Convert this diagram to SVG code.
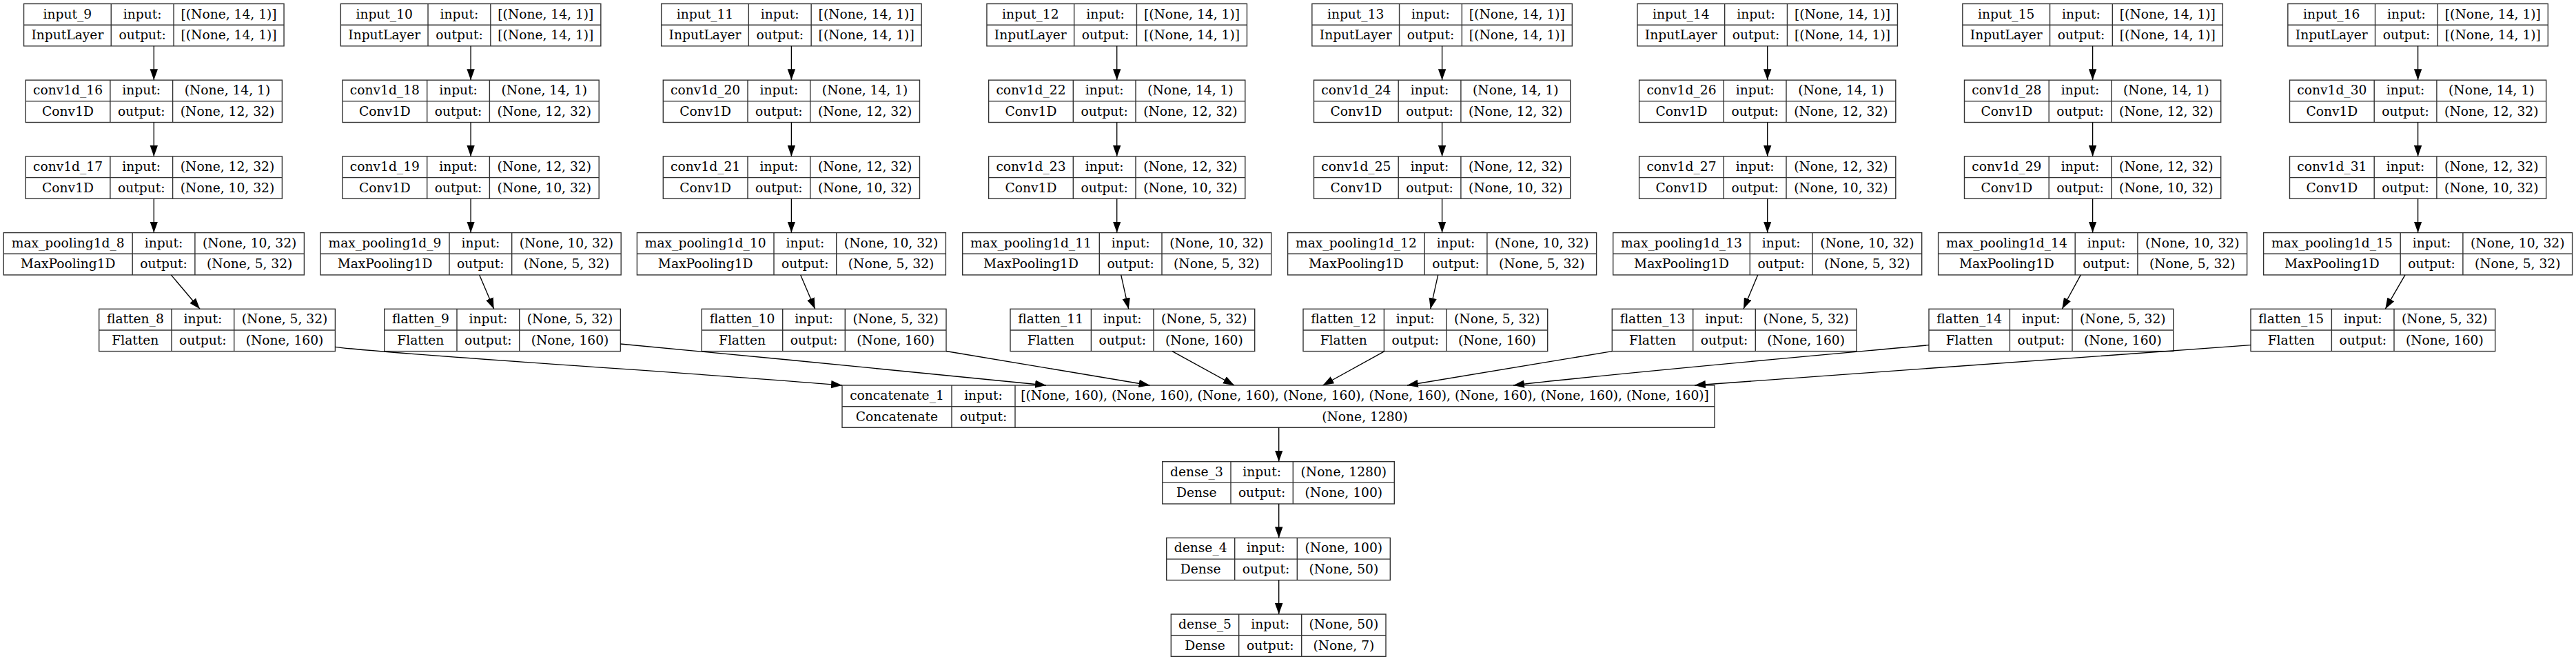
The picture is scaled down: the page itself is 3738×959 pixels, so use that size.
<svg xmlns="http://www.w3.org/2000/svg" width="3738" height="959" viewBox="0 0 3738 959">
<style>
.b{fill:#fff;stroke:#333;stroke-width:1.4}
.l{stroke:#333;stroke-width:1.4;fill:none}
.e{stroke:#000;stroke-width:1.35;fill:none;marker-end:url(#ah)}
text{font-family:"DejaVu Serif","Liberation Serif",serif;font-size:18.67px;text-anchor:middle;fill:#000}
</style>
<defs>
<marker id="ah" markerUnits="userSpaceOnUse" markerWidth="16" markerHeight="12" refX="14" refY="5" orient="auto" viewBox="0 0 14 10"><path d="M0,0 L14,5 L0,10 z" fill="#000"/></marker>
</defs>
<rect width="3738" height="959" fill="#fff"/>

<!-- Column 1 -->
<g id="input_9" transform="translate(34.55,5.5)"><rect class="b" width="377.5" height="61.3"/><path class="l" d="M0 30.7H377.5M126.7 0V61.3M217.5 0V61.3"/><text x="63.35" y="21">input_9</text><text x="172.1" y="21">input:</text><text x="297.5" y="21">[(None, 14, 1)]</text><text x="63.35" y="51.7">InputLayer</text><text x="172.1" y="51.7">output:</text><text x="297.5" y="51.7">[(None, 14, 1)]</text></g>
<g id="conv1d_16" transform="translate(37.2,116.2)"><rect class="b" width="372.2" height="61.3"/><path class="l" d="M0 30.7H372.2M122.7 0V61.3M213.4 0V61.3"/><text x="61.35" y="21">conv1d_16</text><text x="168.05" y="21">input:</text><text x="292.8" y="21">(None, 14, 1)</text><text x="61.35" y="51.7">Conv1D</text><text x="168.05" y="51.7">output:</text><text x="292.8" y="51.7">(None, 12, 32)</text></g>
<g id="conv1d_17" transform="translate(37.2,226.9)"><rect class="b" width="372.2" height="61.3"/><path class="l" d="M0 30.7H372.2M122.7 0V61.3M213.4 0V61.3"/><text x="61.35" y="21">conv1d_17</text><text x="168.05" y="21">input:</text><text x="292.8" y="21">(None, 12, 32)</text><text x="61.35" y="51.7">Conv1D</text><text x="168.05" y="51.7">output:</text><text x="292.8" y="51.7">(None, 10, 32)</text></g>
<g id="max_pooling1d_8" transform="translate(5.2,337.6)"><rect class="b" width="436.2" height="61.3"/><path class="l" d="M0 30.7H436.2M187 0V61.3M277.7 0V61.3"/><text x="93.5" y="21">max_pooling1d_8</text><text x="232.35" y="21">input:</text><text x="356.95" y="21">(None, 10, 32)</text><text x="93.5" y="51.7">MaxPooling1D</text><text x="232.35" y="51.7">output:</text><text x="356.95" y="51.7">(None, 5, 32)</text></g>
<g id="flatten_8" transform="translate(143.7,448.3)"><rect class="b" width="342.7" height="61.3"/><path class="l" d="M0 30.7H342.7M105.3 0V61.3M196 0V61.3"/><text x="52.65" y="21">flatten_8</text><text x="150.65" y="21">input:</text><text x="269.35" y="21">(None, 5, 32)</text><text x="52.65" y="51.7">Flatten</text><text x="150.65" y="51.7">output:</text><text x="269.35" y="51.7">(None, 160)</text></g>

<!-- Column 2 -->
<g id="input_10" transform="translate(494.35,5.5)"><rect class="b" width="377.5" height="61.3"/><path class="l" d="M0 30.7H377.5M126.7 0V61.3M217.5 0V61.3"/><text x="63.35" y="21">input_10</text><text x="172.1" y="21">input:</text><text x="297.5" y="21">[(None, 14, 1)]</text><text x="63.35" y="51.7">InputLayer</text><text x="172.1" y="51.7">output:</text><text x="297.5" y="51.7">[(None, 14, 1)]</text></g>
<g id="conv1d_18" transform="translate(497,116.2)"><rect class="b" width="372.2" height="61.3"/><path class="l" d="M0 30.7H372.2M122.7 0V61.3M213.4 0V61.3"/><text x="61.35" y="21">conv1d_18</text><text x="168.05" y="21">input:</text><text x="292.8" y="21">(None, 14, 1)</text><text x="61.35" y="51.7">Conv1D</text><text x="168.05" y="51.7">output:</text><text x="292.8" y="51.7">(None, 12, 32)</text></g>
<g id="conv1d_19" transform="translate(497,226.9)"><rect class="b" width="372.2" height="61.3"/><path class="l" d="M0 30.7H372.2M122.7 0V61.3M213.4 0V61.3"/><text x="61.35" y="21">conv1d_19</text><text x="168.05" y="21">input:</text><text x="292.8" y="21">(None, 12, 32)</text><text x="61.35" y="51.7">Conv1D</text><text x="168.05" y="51.7">output:</text><text x="292.8" y="51.7">(None, 10, 32)</text></g>
<g id="max_pooling1d_9" transform="translate(465,337.6)"><rect class="b" width="436.2" height="61.3"/><path class="l" d="M0 30.7H436.2M187 0V61.3M277.7 0V61.3"/><text x="93.5" y="21">max_pooling1d_9</text><text x="232.35" y="21">input:</text><text x="356.95" y="21">(None, 10, 32)</text><text x="93.5" y="51.7">MaxPooling1D</text><text x="232.35" y="51.7">output:</text><text x="356.95" y="51.7">(None, 5, 32)</text></g>
<g id="flatten_9" transform="translate(557.7,448.3)"><rect class="b" width="342.7" height="61.3"/><path class="l" d="M0 30.7H342.7M105.3 0V61.3M196 0V61.3"/><text x="52.65" y="21">flatten_9</text><text x="150.65" y="21">input:</text><text x="269.35" y="21">(None, 5, 32)</text><text x="52.65" y="51.7">Flatten</text><text x="150.65" y="51.7">output:</text><text x="269.35" y="51.7">(None, 160)</text></g>

<!-- Column 3 -->
<g id="input_11" transform="translate(959.65,5.5)"><rect class="b" width="377.5" height="61.3"/><path class="l" d="M0 30.7H377.5M126.7 0V61.3M217.5 0V61.3"/><text x="63.35" y="21">input_11</text><text x="172.1" y="21">input:</text><text x="297.5" y="21">[(None, 14, 1)]</text><text x="63.35" y="51.7">InputLayer</text><text x="172.1" y="51.7">output:</text><text x="297.5" y="51.7">[(None, 14, 1)]</text></g>
<g id="conv1d_20" transform="translate(962.3,116.2)"><rect class="b" width="372.2" height="61.3"/><path class="l" d="M0 30.7H372.2M122.7 0V61.3M213.4 0V61.3"/><text x="61.35" y="21">conv1d_20</text><text x="168.05" y="21">input:</text><text x="292.8" y="21">(None, 14, 1)</text><text x="61.35" y="51.7">Conv1D</text><text x="168.05" y="51.7">output:</text><text x="292.8" y="51.7">(None, 12, 32)</text></g>
<g id="conv1d_21" transform="translate(962.3,226.9)"><rect class="b" width="372.2" height="61.3"/><path class="l" d="M0 30.7H372.2M122.7 0V61.3M213.4 0V61.3"/><text x="61.35" y="21">conv1d_21</text><text x="168.05" y="21">input:</text><text x="292.8" y="21">(None, 12, 32)</text><text x="61.35" y="51.7">Conv1D</text><text x="168.05" y="51.7">output:</text><text x="292.8" y="51.7">(None, 10, 32)</text></g>
<g id="max_pooling1d_10" transform="translate(924.4,337.6)"><rect class="b" width="448" height="61.3"/><path class="l" d="M0 30.7H448M198.6 0V61.3M289.3 0V61.3"/><text x="99.3" y="21">max_pooling1d_10</text><text x="243.95" y="21">input:</text><text x="368.65" y="21">(None, 10, 32)</text><text x="99.3" y="51.7">MaxPooling1D</text><text x="243.95" y="51.7">output:</text><text x="368.65" y="51.7">(None, 5, 32)</text></g>
<g id="flatten_10" transform="translate(1018.3,448.3)"><rect class="b" width="354.7" height="61.3"/><path class="l" d="M0 30.7H354.7M117.4 0V61.3M208 0V61.3"/><text x="58.7" y="21">flatten_10</text><text x="162.7" y="21">input:</text><text x="281.35" y="21">(None, 5, 32)</text><text x="58.7" y="51.7">Flatten</text><text x="162.7" y="51.7">output:</text><text x="281.35" y="51.7">(None, 160)</text></g>

<!-- Column 4 -->
<g id="input_12" transform="translate(1431.95,5.5)"><rect class="b" width="377.5" height="61.3"/><path class="l" d="M0 30.7H377.5M126.7 0V61.3M217.5 0V61.3"/><text x="63.35" y="21">input_12</text><text x="172.1" y="21">input:</text><text x="297.5" y="21">[(None, 14, 1)]</text><text x="63.35" y="51.7">InputLayer</text><text x="172.1" y="51.7">output:</text><text x="297.5" y="51.7">[(None, 14, 1)]</text></g>
<g id="conv1d_22" transform="translate(1434.6,116.2)"><rect class="b" width="372.2" height="61.3"/><path class="l" d="M0 30.7H372.2M122.7 0V61.3M213.4 0V61.3"/><text x="61.35" y="21">conv1d_22</text><text x="168.05" y="21">input:</text><text x="292.8" y="21">(None, 14, 1)</text><text x="61.35" y="51.7">Conv1D</text><text x="168.05" y="51.7">output:</text><text x="292.8" y="51.7">(None, 12, 32)</text></g>
<g id="conv1d_23" transform="translate(1434.6,226.9)"><rect class="b" width="372.2" height="61.3"/><path class="l" d="M0 30.7H372.2M122.7 0V61.3M213.4 0V61.3"/><text x="61.35" y="21">conv1d_23</text><text x="168.05" y="21">input:</text><text x="292.8" y="21">(None, 12, 32)</text><text x="61.35" y="51.7">Conv1D</text><text x="168.05" y="51.7">output:</text><text x="292.8" y="51.7">(None, 10, 32)</text></g>
<g id="max_pooling1d_11" transform="translate(1396.7,337.6)"><rect class="b" width="448" height="61.3"/><path class="l" d="M0 30.7H448M198.6 0V61.3M289.3 0V61.3"/><text x="99.3" y="21">max_pooling1d_11</text><text x="243.95" y="21">input:</text><text x="368.65" y="21">(None, 10, 32)</text><text x="99.3" y="51.7">MaxPooling1D</text><text x="243.95" y="51.7">output:</text><text x="368.65" y="51.7">(None, 5, 32)</text></g>
<g id="flatten_11" transform="translate(1466,448.3)"><rect class="b" width="354.7" height="61.3"/><path class="l" d="M0 30.7H354.7M117.4 0V61.3M208 0V61.3"/><text x="58.7" y="21">flatten_11</text><text x="162.7" y="21">input:</text><text x="281.35" y="21">(None, 5, 32)</text><text x="58.7" y="51.7">Flatten</text><text x="162.7" y="51.7">output:</text><text x="281.35" y="51.7">(None, 160)</text></g>

<!-- Column 5 -->
<g id="input_13" transform="translate(1903.85,5.5)"><rect class="b" width="377.5" height="61.3"/><path class="l" d="M0 30.7H377.5M126.7 0V61.3M217.5 0V61.3"/><text x="63.35" y="21">input_13</text><text x="172.1" y="21">input:</text><text x="297.5" y="21">[(None, 14, 1)]</text><text x="63.35" y="51.7">InputLayer</text><text x="172.1" y="51.7">output:</text><text x="297.5" y="51.7">[(None, 14, 1)]</text></g>
<g id="conv1d_24" transform="translate(1906.5,116.2)"><rect class="b" width="372.2" height="61.3"/><path class="l" d="M0 30.7H372.2M122.7 0V61.3M213.4 0V61.3"/><text x="61.35" y="21">conv1d_24</text><text x="168.05" y="21">input:</text><text x="292.8" y="21">(None, 14, 1)</text><text x="61.35" y="51.7">Conv1D</text><text x="168.05" y="51.7">output:</text><text x="292.8" y="51.7">(None, 12, 32)</text></g>
<g id="conv1d_25" transform="translate(1906.5,226.9)"><rect class="b" width="372.2" height="61.3"/><path class="l" d="M0 30.7H372.2M122.7 0V61.3M213.4 0V61.3"/><text x="61.35" y="21">conv1d_25</text><text x="168.05" y="21">input:</text><text x="292.8" y="21">(None, 12, 32)</text><text x="61.35" y="51.7">Conv1D</text><text x="168.05" y="51.7">output:</text><text x="292.8" y="51.7">(None, 10, 32)</text></g>
<g id="max_pooling1d_12" transform="translate(1868.6,337.6)"><rect class="b" width="448" height="61.3"/><path class="l" d="M0 30.7H448M198.6 0V61.3M289.3 0V61.3"/><text x="99.3" y="21">max_pooling1d_12</text><text x="243.95" y="21">input:</text><text x="368.65" y="21">(None, 10, 32)</text><text x="99.3" y="51.7">MaxPooling1D</text><text x="243.95" y="51.7">output:</text><text x="368.65" y="51.7">(None, 5, 32)</text></g>
<g id="flatten_12" transform="translate(1891,448.3)"><rect class="b" width="354.7" height="61.3"/><path class="l" d="M0 30.7H354.7M117.4 0V61.3M208 0V61.3"/><text x="58.7" y="21">flatten_12</text><text x="162.7" y="21">input:</text><text x="281.35" y="21">(None, 5, 32)</text><text x="58.7" y="51.7">Flatten</text><text x="162.7" y="51.7">output:</text><text x="281.35" y="51.7">(None, 160)</text></g>

<!-- Column 6 -->
<g id="input_14" transform="translate(2375.95,5.5)"><rect class="b" width="377.5" height="61.3"/><path class="l" d="M0 30.7H377.5M126.7 0V61.3M217.5 0V61.3"/><text x="63.35" y="21">input_14</text><text x="172.1" y="21">input:</text><text x="297.5" y="21">[(None, 14, 1)]</text><text x="63.35" y="51.7">InputLayer</text><text x="172.1" y="51.7">output:</text><text x="297.5" y="51.7">[(None, 14, 1)]</text></g>
<g id="conv1d_26" transform="translate(2378.6,116.2)"><rect class="b" width="372.2" height="61.3"/><path class="l" d="M0 30.7H372.2M122.7 0V61.3M213.4 0V61.3"/><text x="61.35" y="21">conv1d_26</text><text x="168.05" y="21">input:</text><text x="292.8" y="21">(None, 14, 1)</text><text x="61.35" y="51.7">Conv1D</text><text x="168.05" y="51.7">output:</text><text x="292.8" y="51.7">(None, 12, 32)</text></g>
<g id="conv1d_27" transform="translate(2378.6,226.9)"><rect class="b" width="372.2" height="61.3"/><path class="l" d="M0 30.7H372.2M122.7 0V61.3M213.4 0V61.3"/><text x="61.35" y="21">conv1d_27</text><text x="168.05" y="21">input:</text><text x="292.8" y="21">(None, 12, 32)</text><text x="61.35" y="51.7">Conv1D</text><text x="168.05" y="51.7">output:</text><text x="292.8" y="51.7">(None, 10, 32)</text></g>
<g id="max_pooling1d_13" transform="translate(2340.7,337.6)"><rect class="b" width="448" height="61.3"/><path class="l" d="M0 30.7H448M198.6 0V61.3M289.3 0V61.3"/><text x="99.3" y="21">max_pooling1d_13</text><text x="243.95" y="21">input:</text><text x="368.65" y="21">(None, 10, 32)</text><text x="99.3" y="51.7">MaxPooling1D</text><text x="243.95" y="51.7">output:</text><text x="368.65" y="51.7">(None, 5, 32)</text></g>
<g id="flatten_13" transform="translate(2339.3,448.3)"><rect class="b" width="354.7" height="61.3"/><path class="l" d="M0 30.7H354.7M117.4 0V61.3M208 0V61.3"/><text x="58.7" y="21">flatten_13</text><text x="162.7" y="21">input:</text><text x="281.35" y="21">(None, 5, 32)</text><text x="58.7" y="51.7">Flatten</text><text x="162.7" y="51.7">output:</text><text x="281.35" y="51.7">(None, 160)</text></g>

<!-- Column 7 -->
<g id="input_15" transform="translate(2847.85,5.5)"><rect class="b" width="377.5" height="61.3"/><path class="l" d="M0 30.7H377.5M126.7 0V61.3M217.5 0V61.3"/><text x="63.35" y="21">input_15</text><text x="172.1" y="21">input:</text><text x="297.5" y="21">[(None, 14, 1)]</text><text x="63.35" y="51.7">InputLayer</text><text x="172.1" y="51.7">output:</text><text x="297.5" y="51.7">[(None, 14, 1)]</text></g>
<g id="conv1d_28" transform="translate(2850.5,116.2)"><rect class="b" width="372.2" height="61.3"/><path class="l" d="M0 30.7H372.2M122.7 0V61.3M213.4 0V61.3"/><text x="61.35" y="21">conv1d_28</text><text x="168.05" y="21">input:</text><text x="292.8" y="21">(None, 14, 1)</text><text x="61.35" y="51.7">Conv1D</text><text x="168.05" y="51.7">output:</text><text x="292.8" y="51.7">(None, 12, 32)</text></g>
<g id="conv1d_29" transform="translate(2850.5,226.9)"><rect class="b" width="372.2" height="61.3"/><path class="l" d="M0 30.7H372.2M122.7 0V61.3M213.4 0V61.3"/><text x="61.35" y="21">conv1d_29</text><text x="168.05" y="21">input:</text><text x="292.8" y="21">(None, 12, 32)</text><text x="61.35" y="51.7">Conv1D</text><text x="168.05" y="51.7">output:</text><text x="292.8" y="51.7">(None, 10, 32)</text></g>
<g id="max_pooling1d_14" transform="translate(2812.6,337.6)"><rect class="b" width="448" height="61.3"/><path class="l" d="M0 30.7H448M198.6 0V61.3M289.3 0V61.3"/><text x="99.3" y="21">max_pooling1d_14</text><text x="243.95" y="21">input:</text><text x="368.65" y="21">(None, 10, 32)</text><text x="99.3" y="51.7">MaxPooling1D</text><text x="243.95" y="51.7">output:</text><text x="368.65" y="51.7">(None, 5, 32)</text></g>
<g id="flatten_14" transform="translate(2799,448.3)"><rect class="b" width="354.7" height="61.3"/><path class="l" d="M0 30.7H354.7M117.4 0V61.3M208 0V61.3"/><text x="58.7" y="21">flatten_14</text><text x="162.7" y="21">input:</text><text x="281.35" y="21">(None, 5, 32)</text><text x="58.7" y="51.7">Flatten</text><text x="162.7" y="51.7">output:</text><text x="281.35" y="51.7">(None, 160)</text></g>

<!-- Column 8 -->
<g id="input_16" transform="translate(3319.85,5.5)"><rect class="b" width="377.5" height="61.3"/><path class="l" d="M0 30.7H377.5M126.7 0V61.3M217.5 0V61.3"/><text x="63.35" y="21">input_16</text><text x="172.1" y="21">input:</text><text x="297.5" y="21">[(None, 14, 1)]</text><text x="63.35" y="51.7">InputLayer</text><text x="172.1" y="51.7">output:</text><text x="297.5" y="51.7">[(None, 14, 1)]</text></g>
<g id="conv1d_30" transform="translate(3322.5,116.2)"><rect class="b" width="372.2" height="61.3"/><path class="l" d="M0 30.7H372.2M122.7 0V61.3M213.4 0V61.3"/><text x="61.35" y="21">conv1d_30</text><text x="168.05" y="21">input:</text><text x="292.8" y="21">(None, 14, 1)</text><text x="61.35" y="51.7">Conv1D</text><text x="168.05" y="51.7">output:</text><text x="292.8" y="51.7">(None, 12, 32)</text></g>
<g id="conv1d_31" transform="translate(3322.5,226.9)"><rect class="b" width="372.2" height="61.3"/><path class="l" d="M0 30.7H372.2M122.7 0V61.3M213.4 0V61.3"/><text x="61.35" y="21">conv1d_31</text><text x="168.05" y="21">input:</text><text x="292.8" y="21">(None, 12, 32)</text><text x="61.35" y="51.7">Conv1D</text><text x="168.05" y="51.7">output:</text><text x="292.8" y="51.7">(None, 10, 32)</text></g>
<g id="max_pooling1d_15" transform="translate(3284.6,337.6)"><rect class="b" width="448" height="61.3"/><path class="l" d="M0 30.7H448M198.6 0V61.3M289.3 0V61.3"/><text x="99.3" y="21">max_pooling1d_15</text><text x="243.95" y="21">input:</text><text x="368.65" y="21">(None, 10, 32)</text><text x="99.3" y="51.7">MaxPooling1D</text><text x="243.95" y="51.7">output:</text><text x="368.65" y="51.7">(None, 5, 32)</text></g>
<g id="flatten_15" transform="translate(3266,448.3)"><rect class="b" width="354.7" height="61.3"/><path class="l" d="M0 30.7H354.7M117.4 0V61.3M208 0V61.3"/><text x="58.7" y="21">flatten_15</text><text x="162.7" y="21">input:</text><text x="281.35" y="21">(None, 5, 32)</text><text x="58.7" y="51.7">Flatten</text><text x="162.7" y="51.7">output:</text><text x="281.35" y="51.7">(None, 160)</text></g>

<!-- Merge and dense -->
<g id="concatenate_1" transform="translate(1222,559)"><rect class="b" width="1266" height="61.3"/><path class="l" d="M0 30.7H1266M159 0V61.3M251 0V61.3"/><text x="79.5" y="21">concatenate_1</text><text x="205" y="21">input:</text><text x="758.5" y="21">[(None, 160), (None, 160), (None, 160), (None, 160), (None, 160), (None, 160), (None, 160), (None, 160)]</text><text x="79.5" y="51.7">Concatenate</text><text x="205" y="51.7">output:</text><text x="758.5" y="51.7">(None, 1280)</text></g>
<g id="dense_3" transform="translate(1686.7,669.7)"><rect class="b" width="336.6" height="61.3"/><path class="l" d="M0 30.7H336.6M99.3 0V61.3M189.6 0V61.3"/><text x="49.65" y="21">dense_3</text><text x="144.45" y="21">input:</text><text x="263.1" y="21">(None, 1280)</text><text x="49.65" y="51.7">Dense</text><text x="144.45" y="51.7">output:</text><text x="263.1" y="51.7">(None, 100)</text></g>
<g id="dense_4" transform="translate(1692.7,780.4)"><rect class="b" width="324.6" height="61.3"/><path class="l" d="M0 30.7H324.6M99 0V61.3M189.6 0V61.3"/><text x="49.5" y="21">dense_4</text><text x="144.3" y="21">input:</text><text x="257.1" y="21">(None, 100)</text><text x="49.5" y="51.7">Dense</text><text x="144.3" y="51.7">output:</text><text x="257.1" y="51.7">(None, 50)</text></g>
<g id="dense_5" transform="translate(1699.3,891.1)"><rect class="b" width="311.7" height="61.3"/><path class="l" d="M0 30.7H311.7M98.4 0V61.3M189.4 0V61.3"/><text x="49.2" y="21">dense_5</text><text x="143.9" y="21">input:</text><text x="250.55" y="21">(None, 50)</text><text x="49.2" y="51.7">Dense</text><text x="143.9" y="51.7">output:</text><text x="250.55" y="51.7">(None, 7)</text></g>

<g id="connectors">
<path class="e" d="M223.3 66.8V116.2"/><path class="e" d="M223.3 177.5V226.9"/><path class="e" d="M223.3 288.2V337.6"/><path class="e" d="M248.3 398.9L290 448.3"/>
<path class="e" d="M683.1 66.8V116.2"/><path class="e" d="M683.1 177.5V226.9"/><path class="e" d="M683.1 288.2V337.6"/><path class="e" d="M695.7 398.9L716.7 448.3"/>
<path class="e" d="M1148.4 66.8V116.2"/><path class="e" d="M1148.4 177.5V226.9"/><path class="e" d="M1148.4 288.2V337.6"/><path class="e" d="M1161.7 398.9L1182.7 448.3"/>
<path class="e" d="M1620.7 66.8V116.2"/><path class="e" d="M1620.7 177.5V226.9"/><path class="e" d="M1620.7 288.2V337.6"/><path class="e" d="M1626.7 398.9L1637.7 448.3"/>
<path class="e" d="M2092.6 66.8V116.2"/><path class="e" d="M2092.6 177.5V226.9"/><path class="e" d="M2092.6 288.2V337.6"/><path class="e" d="M2086.7 398.9L2075.7 448.3"/>
<path class="e" d="M2564.7 66.8V116.2"/><path class="e" d="M2564.7 177.5V226.9"/><path class="e" d="M2564.7 288.2V337.6"/><path class="e" d="M2550.7 398.9L2530 448.3"/>
<path class="e" d="M3036.6 66.8V116.2"/><path class="e" d="M3036.6 177.5V226.9"/><path class="e" d="M3036.6 288.2V337.6"/><path class="e" d="M3019.3 398.9L2992.3 448.3"/>
<path class="e" d="M3508.6 66.8V116.2"/><path class="e" d="M3508.6 177.5V226.9"/><path class="e" d="M3508.6 288.2V337.6"/><path class="e" d="M3490 398.9L3461.3 448.3"/>
<path class="e" d="M486.4 503.3C560 514 1000 540 1222 559"/>
<path class="e" d="M900.4 499C1100 518 1350 541 1518 559"/>
<path class="e" d="M1373 509.5L1668.5 559"/>
<path class="e" d="M1701 509.6L1791 559"/>
<path class="e" d="M2009 509.6L1919.5 559"/>
<path class="e" d="M2339.3 509.6L2042 559"/>
<path class="e" d="M2799 500.7C2600 519 2350 541 2196 559"/>
<path class="e" d="M3266 500.7C2950 522 2650 543 2459 559"/>
<path class="e" d="M1855.7 620.3V669.7"/><path class="e" d="M1855.7 731V780.4"/><path class="e" d="M1855.7 841.7V891.1"/>
</g>
</svg>
